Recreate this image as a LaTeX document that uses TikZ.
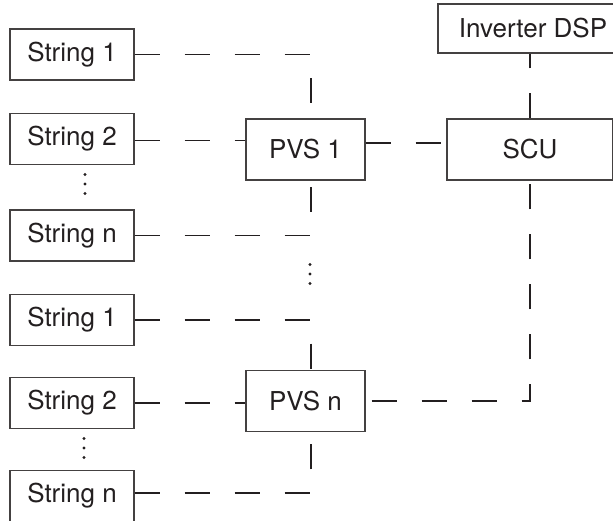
\documentclass[tikz,border=0pt]{standalone}
\usepackage{fontspec}
\setmainfont{TeX Gyre Heros}
\usetikzlibrary{calc}
\definecolor{ink}{HTML}{231F20}
\tikzset{
  unitbox/.style = {draw=ink!85, line width=1.1pt, text=ink, inner sep=0pt, align=center, font=\fontsize{26}{30}\selectfont},
  stringbox/.style = {unitbox, minimum width=124pt, minimum height=51pt},
  pvsbox/.style = {unitbox, minimum width=119pt, minimum height=61pt},
  scubox/.style = {unitbox, minimum width=166pt, minimum height=61pt},
  dspbox/.style = {unitbox, minimum width=190pt, minimum height=49pt},
  link/.style = {draw=ink, line width=1.7pt, dash pattern=on 25pt off 25pt},
}

\begin{document}
\begin{tikzpicture}[x=1pt,y=1pt]
\clip (0,0) rectangle (613,-521);

% strings, two groups
\node[stringbox] (s1a) at (72,-54.5) {String 1};
\node[stringbox] (s2a) at (72,-139) {String 2};
\node[stringbox] (sna) at (72,-235.5) {String n};
\node[stringbox] (s1b) at (72,-320) {String 1};
\node[stringbox] (s2b) at (72,-403) {String 2};
\node[stringbox] (snb) at (72,-496) {String n};

\node[pvsbox] (pvsA) at (305.5,-149.5) {PVS 1};
\node[pvsbox] (pvsN) at (305.5,-401) {PVS n};
\node[scubox] (scu) at (530,-149.5) {SCU};
\node[dspbox] (dsp) at (533,-28.5) {Inverter DSP};

% vertical dots
\foreach \x/\y in {85/-184, 84/-448, 310/-274}
  \foreach \d in {-9.5,0,9.5}
    \fill[ink] (\x,\y+\d) circle (1.6);

\draw[link] (s1a.east) -| ([xshift=5.5pt]pvsA.north);
\draw[link] ([yshift=-1.5pt]s2a.east) -- ([yshift=-1.5pt]s2a.east -| pvsA.west);
\draw[link] (sna.east) -| ([xshift=5.5pt]pvsA.south);
\draw[link] ([yshift=6.5pt]pvsA.east) -- ([yshift=6.5pt]scu.west);
\draw[link] (scu.north) -- (scu.north |- dsp.south);
\draw[link, dash phase=44pt] (pvsN.east) -| (scu.south);

\draw[link] (s1b.east) -| ([xshift=5.5pt]pvsN.north);
\draw[link] (s2b.east) -- (s2b.east -| pvsN.west);
\draw[link] ([yshift=3pt]snb.east) -| ([xshift=5.5pt]pvsN.south);
\end{tikzpicture}
\end{document}
